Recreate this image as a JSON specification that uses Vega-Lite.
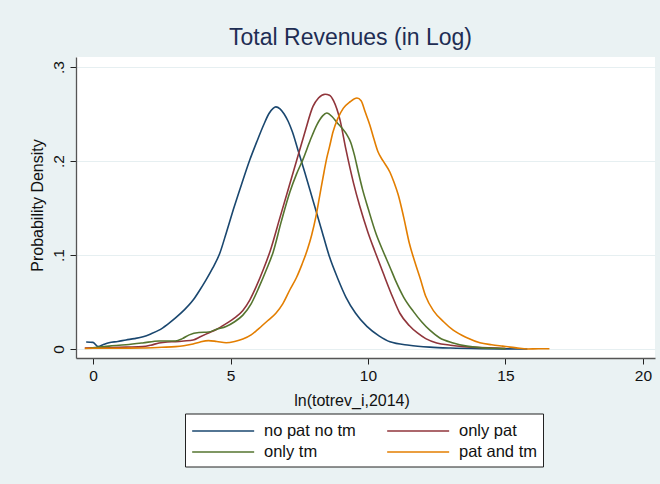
{
"$schema": "https://vega.github.io/schema/vega-lite/v6.json",
"width": 579, "height": 301,
"autosize": {"type": "none"},
"padding": {"left": 76, "top": 57, "right": 5, "bottom": 126},
"background": "#EAF2F3",
"view": {"fill": "white", "stroke": null},
"title": {"text": "Total Revenues (in Log)", "fontSize": 23, "font": "Liberation Sans", "fontWeight": "normal", "color": "#1E2D53", "anchor": "middle", "frame": "group", "dx": -15, "dy": 23, "baseline": "alphabetic", "offset": 12},
"datasets": {
"d": [
{"g":"no pat no tm","x":-0.25,"y":0.0074},{"g":"no pat no tm","x":0.0,"y":0.007},{"g":"no pat no tm","x":0.18,"y":0.0025},{"g":"no pat no tm","x":0.4,"y":0.005},{"g":"no pat no tm","x":0.58,"y":0.0067},{"g":"no pat no tm","x":0.9,"y":0.008},{"g":"no pat no tm","x":1.2,"y":0.0096},{"g":"no pat no tm","x":1.5,"y":0.011},{"g":"no pat no tm","x":1.82,"y":0.013},{"g":"no pat no tm","x":2.1,"y":0.016},{"g":"no pat no tm","x":2.4,"y":0.02},{"g":"no pat no tm","x":2.7,"y":0.026},{"g":"no pat no tm","x":3.0,"y":0.033},{"g":"no pat no tm","x":3.3,"y":0.041},{"g":"no pat no tm","x":3.64,"y":0.052},{"g":"no pat no tm","x":3.89,"y":0.063},{"g":"no pat no tm","x":4.1,"y":0.073},{"g":"no pat no tm","x":4.35,"y":0.086},{"g":"no pat no tm","x":4.6,"y":0.101},{"g":"no pat no tm","x":4.85,"y":0.124},{"g":"no pat no tm","x":5.1,"y":0.148},{"g":"no pat no tm","x":5.4,"y":0.175},{"g":"no pat no tm","x":5.7,"y":0.201},{"g":"no pat no tm","x":5.95,"y":0.22},{"g":"no pat no tm","x":6.2,"y":0.238},{"g":"no pat no tm","x":6.4,"y":0.2505},{"g":"no pat no tm","x":6.55,"y":0.256},{"g":"no pat no tm","x":6.65,"y":0.2575},{"g":"no pat no tm","x":6.8,"y":0.2555},{"g":"no pat no tm","x":6.95,"y":0.25},{"g":"no pat no tm","x":7.1,"y":0.242},{"g":"no pat no tm","x":7.25,"y":0.231},{"g":"no pat no tm","x":7.45,"y":0.212},{"g":"no pat no tm","x":7.7,"y":0.188},{"g":"no pat no tm","x":8.0,"y":0.158},{"g":"no pat no tm","x":8.3,"y":0.128},{"g":"no pat no tm","x":8.6,"y":0.098},{"g":"no pat no tm","x":8.9,"y":0.075},{"g":"no pat no tm","x":9.2,"y":0.055},{"g":"no pat no tm","x":9.55,"y":0.038},{"g":"no pat no tm","x":9.96,"y":0.024},{"g":"no pat no tm","x":10.4,"y":0.014},{"g":"no pat no tm","x":10.8,"y":0.0077},{"g":"no pat no tm","x":11.5,"y":0.004},{"g":"no pat no tm","x":12.25,"y":0.002},{"g":"no pat no tm","x":13.0,"y":0.001},{"g":"no pat no tm","x":14.1,"y":0.0003},{"g":"no pat no tm","x":15.0,"y":0.0001},{"g":"no pat no tm","x":15.8,"y":0.0},
{"g":"only pat","x":-0.3,"y":0.001},{"g":"only pat","x":0.0,"y":0.0012},{"g":"only pat","x":0.58,"y":0.0014},{"g":"only pat","x":1.2,"y":0.002},{"g":"only pat","x":1.8,"y":0.0025},{"g":"only pat","x":2.1,"y":0.004},{"g":"only pat","x":2.4,"y":0.0064},{"g":"only pat","x":2.7,"y":0.0075},{"g":"only pat","x":3.0,"y":0.0078},{"g":"only pat","x":3.3,"y":0.0085},{"g":"only pat","x":3.64,"y":0.0096},{"g":"only pat","x":3.9,"y":0.013},{"g":"only pat","x":4.2,"y":0.017},{"g":"only pat","x":4.5,"y":0.021},{"g":"only pat","x":4.84,"y":0.027},{"g":"only pat","x":5.15,"y":0.033},{"g":"only pat","x":5.45,"y":0.041},{"g":"only pat","x":5.7,"y":0.052},{"g":"only pat","x":5.93,"y":0.066},{"g":"only pat","x":6.2,"y":0.085},{"g":"only pat","x":6.44,"y":0.104},{"g":"only pat","x":6.8,"y":0.14},{"g":"only pat","x":7.1,"y":0.17},{"g":"only pat","x":7.4,"y":0.2},{"g":"only pat","x":7.7,"y":0.23},{"g":"only pat","x":8.0,"y":0.258},{"g":"only pat","x":8.2,"y":0.267},{"g":"only pat","x":8.44,"y":0.271},{"g":"only pat","x":8.6,"y":0.27},{"g":"only pat","x":8.75,"y":0.264},{"g":"only pat","x":8.98,"y":0.244},{"g":"only pat","x":9.2,"y":0.212},{"g":"only pat","x":9.47,"y":0.177},{"g":"only pat","x":9.7,"y":0.152},{"g":"only pat","x":10.0,"y":0.124},{"g":"only pat","x":10.25,"y":0.104},{"g":"only pat","x":10.55,"y":0.081},{"g":"only pat","x":10.9,"y":0.055},{"g":"only pat","x":11.16,"y":0.038},{"g":"only pat","x":11.5,"y":0.025},{"g":"only pat","x":11.8,"y":0.017},{"g":"only pat","x":12.1,"y":0.011},{"g":"only pat","x":12.5,"y":0.0064},{"g":"only pat","x":13.0,"y":0.004},{"g":"only pat","x":13.5,"y":0.0025},{"g":"only pat","x":14.1,"y":0.0015},{"g":"only pat","x":14.7,"y":0.001},{"g":"only pat","x":15.0,"y":0.0005},
{"g":"only tm","x":-0.1,"y":0.001},{"g":"only tm","x":0.2,"y":0.002},{"g":"only tm","x":0.58,"y":0.003},{"g":"only tm","x":1.2,"y":0.0045},{"g":"only tm","x":1.8,"y":0.0064},{"g":"only tm","x":2.4,"y":0.0085},{"g":"only tm","x":2.7,"y":0.0085},{"g":"only tm","x":3.0,"y":0.0085},{"g":"only tm","x":3.25,"y":0.011},{"g":"only tm","x":3.5,"y":0.015},{"g":"only tm","x":3.85,"y":0.0175},{"g":"only tm","x":4.2,"y":0.018},{"g":"only tm","x":4.5,"y":0.021},{"g":"only tm","x":4.84,"y":0.024},{"g":"only tm","x":5.15,"y":0.029},{"g":"only tm","x":5.45,"y":0.036},{"g":"only tm","x":5.75,"y":0.048},{"g":"only tm","x":6.04,"y":0.066},{"g":"only tm","x":6.3,"y":0.084},{"g":"only tm","x":6.55,"y":0.103},{"g":"only tm","x":6.85,"y":0.136},{"g":"only tm","x":7.16,"y":0.167},{"g":"only tm","x":7.4,"y":0.186},{"g":"only tm","x":7.64,"y":0.202},{"g":"only tm","x":7.9,"y":0.222},{"g":"only tm","x":8.15,"y":0.239},{"g":"only tm","x":8.35,"y":0.248},{"g":"only tm","x":8.5,"y":0.251},{"g":"only tm","x":8.7,"y":0.247},{"g":"only tm","x":8.87,"y":0.241},{"g":"only tm","x":9.05,"y":0.235},{"g":"only tm","x":9.23,"y":0.228},{"g":"only tm","x":9.37,"y":0.22},{"g":"only tm","x":9.5,"y":0.207},{"g":"only tm","x":9.65,"y":0.188},{"g":"only tm","x":9.8,"y":0.17},{"g":"only tm","x":10.0,"y":0.15},{"g":"only tm","x":10.3,"y":0.122},{"g":"only tm","x":10.55,"y":0.104},{"g":"only tm","x":10.8,"y":0.087},{"g":"only tm","x":11.0,"y":0.073},{"g":"only tm","x":11.3,"y":0.055},{"g":"only tm","x":11.65,"y":0.04},{"g":"only tm","x":11.95,"y":0.029},{"g":"only tm","x":12.25,"y":0.02},{"g":"only tm","x":12.6,"y":0.012},{"g":"only tm","x":13.1,"y":0.0064},{"g":"only tm","x":13.6,"y":0.003},{"g":"only tm","x":14.07,"y":0.0014},{"g":"only tm","x":14.6,"y":0.0007},{"g":"only tm","x":15.0,"y":0.0004},
{"g":"pat and tm","x":-0.3,"y":0.0005},{"g":"pat and tm","x":0.0,"y":0.0007},{"g":"pat and tm","x":1.0,"y":0.0008},{"g":"pat and tm","x":1.8,"y":0.001},{"g":"pat and tm","x":2.5,"y":0.0018},{"g":"pat and tm","x":3.0,"y":0.0025},{"g":"pat and tm","x":3.3,"y":0.0035},{"g":"pat and tm","x":3.64,"y":0.0053},{"g":"pat and tm","x":3.9,"y":0.0075},{"g":"pat and tm","x":4.2,"y":0.0089},{"g":"pat and tm","x":4.5,"y":0.008},{"g":"pat and tm","x":4.84,"y":0.0067},{"g":"pat and tm","x":5.15,"y":0.008},{"g":"pat and tm","x":5.45,"y":0.0106},{"g":"pat and tm","x":5.75,"y":0.015},{"g":"pat and tm","x":6.04,"y":0.022},{"g":"pat and tm","x":6.35,"y":0.03},{"g":"pat and tm","x":6.65,"y":0.038},{"g":"pat and tm","x":6.9,"y":0.048},{"g":"pat and tm","x":7.16,"y":0.063},{"g":"pat and tm","x":7.4,"y":0.076},{"g":"pat and tm","x":7.6,"y":0.09},{"g":"pat and tm","x":7.8,"y":0.106},{"g":"pat and tm","x":7.95,"y":0.121},{"g":"pat and tm","x":8.1,"y":0.14},{"g":"pat and tm","x":8.25,"y":0.164},{"g":"pat and tm","x":8.4,"y":0.188},{"g":"pat and tm","x":8.5,"y":0.203},{"g":"pat and tm","x":8.6,"y":0.215},{"g":"pat and tm","x":8.73,"y":0.231},{"g":"pat and tm","x":8.9,"y":0.245},{"g":"pat and tm","x":9.1,"y":0.256},{"g":"pat and tm","x":9.35,"y":0.263},{"g":"pat and tm","x":9.6,"y":0.267},{"g":"pat and tm","x":9.75,"y":0.264},{"g":"pat and tm","x":9.9,"y":0.252},{"g":"pat and tm","x":10.07,"y":0.238},{"g":"pat and tm","x":10.2,"y":0.225},{"g":"pat and tm","x":10.36,"y":0.21},{"g":"pat and tm","x":10.55,"y":0.2},{"g":"pat and tm","x":10.8,"y":0.188},{"g":"pat and tm","x":10.95,"y":0.177},{"g":"pat and tm","x":11.1,"y":0.164},{"g":"pat and tm","x":11.3,"y":0.14},{"g":"pat and tm","x":11.5,"y":0.113},{"g":"pat and tm","x":11.7,"y":0.093},{"g":"pat and tm","x":11.9,"y":0.075},{"g":"pat and tm","x":12.1,"y":0.056},{"g":"pat and tm","x":12.4,"y":0.04},{"g":"pat and tm","x":12.75,"y":0.029},{"g":"pat and tm","x":13.1,"y":0.02},{"g":"pat and tm","x":13.6,"y":0.012},{"g":"pat and tm","x":14.07,"y":0.0067},{"g":"pat and tm","x":14.5,"y":0.0045},{"g":"pat and tm","x":14.9,"y":0.003},{"g":"pat and tm","x":15.4,"y":0.0012},{"g":"pat and tm","x":15.8,"y":0.0},{"g":"pat and tm","x":16.2,"y":0.0003},{"g":"pat and tm","x":16.6,"y":0.0003}
]
},
"data": {"name": "d"},
"mark": {"type": "line", "strokeWidth": 1.6, "interpolate": "monotone"},
"encoding": {
"x": {"field": "x", "type": "quantitative",
 "scale": {"domain": [-0.62, 20.44], "nice": false, "zero": false},
 "axis": {"values": [0, 5, 10, 15, 20], "title": "ln(totrev_i,2014)", "grid": false, "tickSize": 6, "tickColor": "#222222", "domainColor": "#555555", "domainWidth": 1.3,
  "labelFont": "Liberation Sans", "labelFontSize": 15.5, "labelColor": "#111111", "labelPadding": 4,
  "titleFont": "Liberation Sans", "titleFontSize": 16, "titleFontWeight": "normal", "titleColor": "#111111",
  "titleX": 275.5, "titleY": 47, "titleBaseline": "alphabetic", "titleAlign": "center"}},
"y": {"field": "y", "type": "quantitative",
 "scale": {"domain": [-0.0096, 0.3106], "nice": false, "zero": false},
 "axis": {"values": [0, 0.1, 0.2, 0.3], "labelExpr": "datum.value == 0 ? '0' : replace(format(datum.value, '.1f'), '0.', '.')",
  "title": "Probability Density", "grid": true, "gridColor": "#E6EFF1", "gridWidth": 1.2,
  "tickSize": 6, "tickColor": "#222222", "domainColor": "#555555", "domainWidth": 1.3,
  "labelAngle": -90, "labelAlign": "center", "labelBaseline": "alphabetic", "labelPadding": 7,
  "labelFont": "Liberation Sans", "labelFontSize": 15.5, "labelColor": "#111111",
  "titleFont": "Liberation Sans", "titleFontSize": 16, "titleFontWeight": "normal", "titleColor": "#111111",
  "titleX": -34, "titleY": 148, "titleAngle": -90, "titleBaseline": "alphabetic", "titleAlign": "center"}},
"color": {"field": "g", "type": "nominal",
 "scale": {"domain": ["no pat no tm", "only pat", "only tm", "pat and tm"], "range": ["#1A476F", "#90353B", "#55752F", "#E37E00"]},
 "legend": {"orient": "none", "legendX": 109, "legendY": 356.5, "direction": "horizontal", "columns": 2, "title": null,
  "symbolType": "M-1,0H5", "symbolSize": 427, "symbolStrokeWidth": 1.6,
  "labelFont": "Liberation Sans", "labelFontSize": 16.5, "labelColor": "#111111", "labelOffset": 50, "labelLimit": 300,
  "columnPadding": 27, "rowPadding": 1, "padding": 6, "strokeColor": "#222222", "fillColor": "white"}}
}
}
